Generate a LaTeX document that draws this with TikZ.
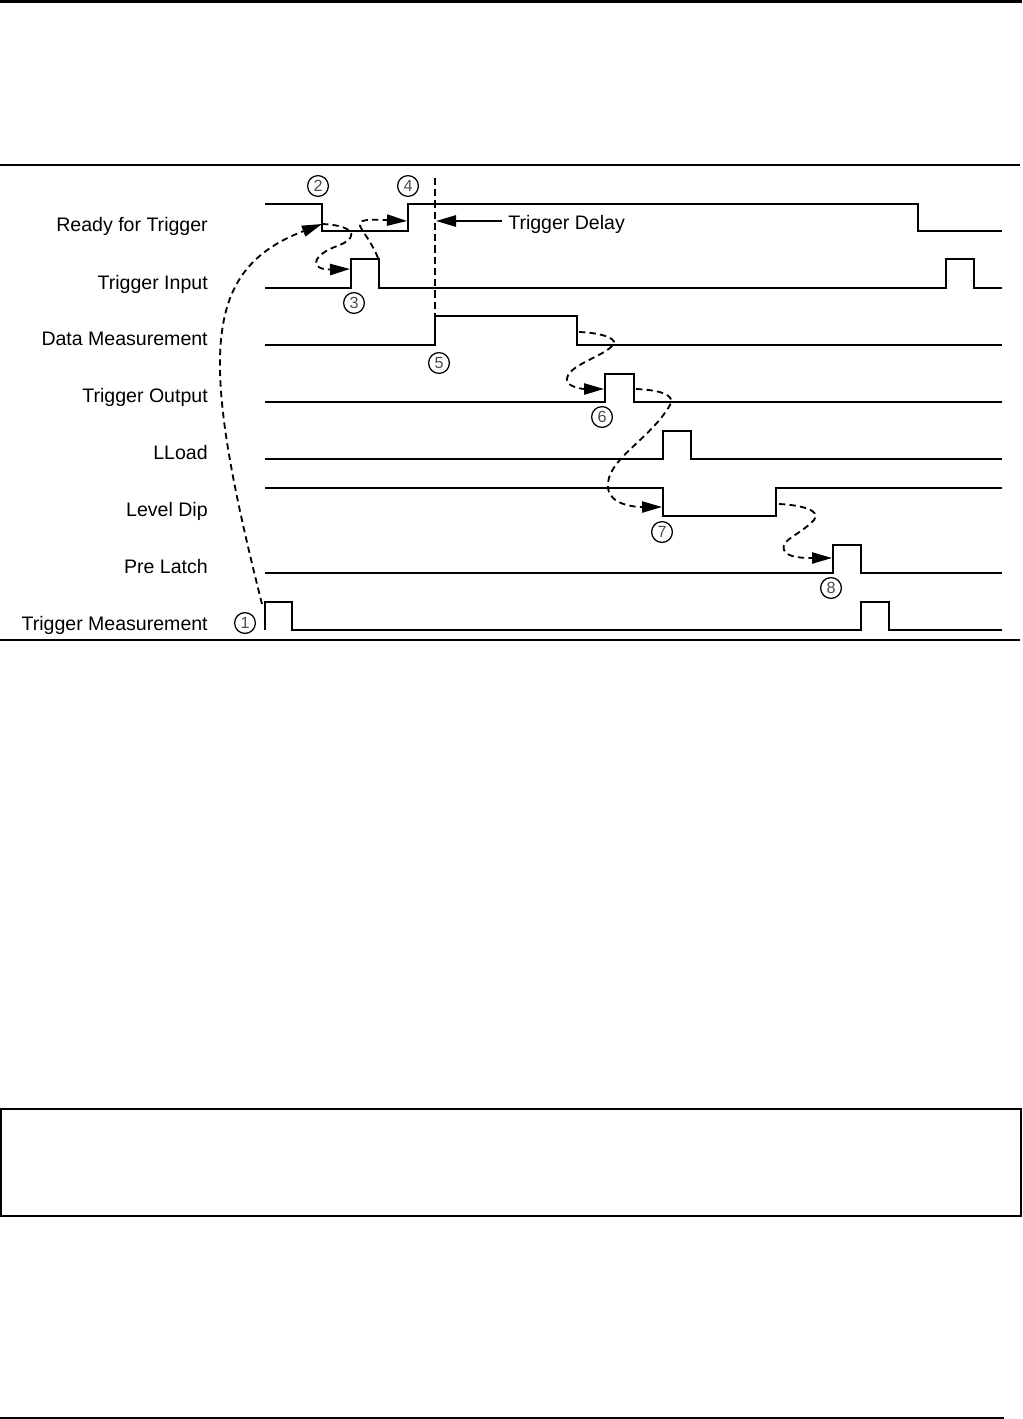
\documentclass[tikz,border=0pt]{standalone}
\usepackage{fontspec}
\setmainfont{Liberation Sans}
\usepackage{tikz}
\usetikzlibrary{arrows.meta, positioning}
\tikzstyle{signal} = [line width=1.6pt, line join=miter]
\tikzstyle{siglabel} = [anchor=base east, inner sep=0pt, font=\fontsize{13.9}{16}\selectfont]
\tikzstyle{numcircle} = [circle, draw, line width=0.9pt, minimum size=0.52cm, inner sep=0pt, font=\fontsize{11.5}{12}\selectfont, text=black!70]
\tikzstyle{cause} = [line width=1.3pt, dash pattern=on 4.5pt off 3pt, -{Triangle[length=0.5cm,width=0.28cm]}]
\tikzstyle{delayline} = [line width=1.3pt, dash pattern=on 5pt off 3pt]
\tikzstyle{delayarrow} = [line width=1.5pt, -{Triangle[length=0.5cm,width=0.28cm]}]
\tikzstyle{rule} = [line width=1.2pt]

\begin{document}
\begin{tikzpicture}[x=0.025cm, y=-0.025cm]
\useasboundingbox (0,0) rectangle (1022,1419);

% page rules and empty box
\draw [line width=2.2pt] (0,1.5) -- (1022,1.5);
\draw [rule] (0,165) -- (1020,165);
\draw [rule] (0,640) -- (1020,640);
\draw [rule] (1,1109) rectangle (1021,1216);
\draw [rule] (0,1418) -- (1004,1418);

% signal names
\node (lblReady) [siglabel] at (208,231) {Ready for Trigger};
\node (lblInput) [siglabel] at (208,289) {Trigger Input};
\node (lblData) [siglabel] at (208,345) {Data Measurement};
\node (lblOutput) [siglabel] at (208,402) {Trigger Output};
\node (lblLLoad) [siglabel] at (208,459) {LLoad};
\node (lblDip) [siglabel] at (208,516) {Level Dip};
\node (lblLatch) [siglabel] at (208,573) {Pre Latch};
\node (lblMeas) [siglabel] at (208,630) {Trigger Measurement};

% waveforms
\draw [signal] (265,204) -| (322,231) -| (408,204) -| (918,231) -- (1002,231);
\draw [signal] (265,288) -| (351,259) -| (379,288) -| (946,259) -| (974,288) -- (1002,288);
\draw [signal] (265,345) -| (435,316) -| (577,345) -- (1002,345);
\draw [signal] (265,402) -| (605,374) -| (634,402) -- (1002,402);
\draw [signal] (265,459) -| (663,431) -| (691,459) -- (1002,459);
\draw [signal] (265,488) -| (663,516) -| (776,488) -- (1002,488);
\draw [signal] (265,573) -| (833,545) -| (861,573) -- (1002,573);
\draw [signal] (265,630) -- (265,602) -| (292,630) -| (861,602) -| (889,630) -- (1002,630);

% edge points
\coordinate (tmRise) at (262,604);
\coordinate (rdyFall) at (322,224);
\coordinate (tiRise) at (350,269);
\coordinate (tiFall) at (378,258);
\coordinate (rdyRise) at (407,221);
\coordinate (dlyTop) at (435,178);
\coordinate (dmRise) at (435,316);
\coordinate (dlyTip) at (436,221);
\coordinate (dmFall) at (579,332);
\coordinate (toRise) at (604,389);
\coordinate (toFall) at (636,389);
\coordinate (ldFall) at (662,507);
\coordinate (ldRise) at (779,504);
\coordinate (plRise) at (832,558);

% sequence numbers
\node (n1) [numcircle] at (245,623) {1};
\node (n2) [numcircle] at (318,186) {2};
\node (n3) [numcircle] at (354,303) {3};
\node (n4) [numcircle] at (408,186) {4};
\node (n5) [numcircle] at (439,363) {5};
\node (n6) [numcircle] at (602,417) {6};
\node (n7) [numcircle] at (662,532) {7};
\node (n8) [numcircle] at (831,588) {8};

% trigger delay
\draw [delayline] (dlyTop) -- (dmRise);
\node (tdly) [siglabel, anchor=base west] at (508,229) {Trigger Delay};
\draw [delayarrow, shorten <=3\pgflinewidth] (tdly.west |- dlyTip) -- (dlyTip);

% cause and effect
\draw [cause] (tmRise) .. controls (199,355) and (202,270) .. (rdyFall);
\draw [cause] (rdyFall) .. controls (350,225) and (362,235) .. (340,245) .. controls (310,255) and (310,270) .. (tiRise);
\draw [cause] (tiFall) .. controls (365,225) and (340,218) .. (rdyRise);
\draw [cause] (dmFall) .. controls (605,333) and (620,340) .. (612,346) .. controls (602,357) and (566,366) .. (567,380) .. controls (568,388) and (585,389) .. (toRise);
\draw [cause] (toFall) .. controls (660,390) and (676,395) .. (670,405) .. controls (650,440) and (605,460) .. (608,488) .. controls (610,505) and (635,507) .. (ldFall);
\draw [cause] (ldRise) .. controls (800,505) and (822,510) .. (814,520) .. controls (800,535) and (780,540) .. (784,550) .. controls (787,558) and (805,558) .. (plRise);

\end{tikzpicture}
\end{document}
